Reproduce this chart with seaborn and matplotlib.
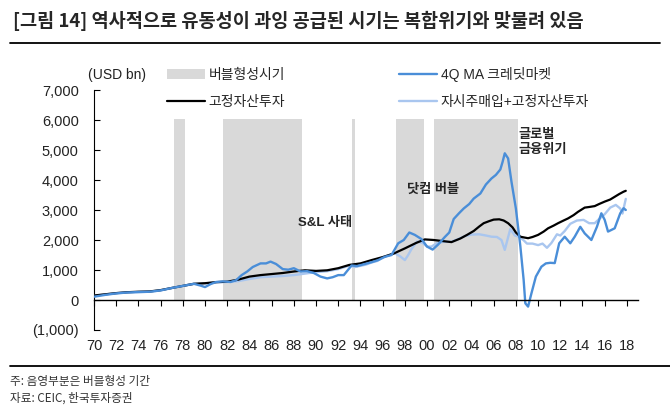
import matplotlib
matplotlib.use('Agg')
import matplotlib.pyplot as plt
import seaborn as sns
from matplotlib.lines import Line2D
from matplotlib.ticker import FuncFormatter

# ---------------- data ----------------
band_start = [1977.2, 1981.6, 1993.2, 1997.2, 2000.6]
band_end = [1978.2, 1988.7, 1993.5, 1999.7, 2008.2]
BAND_TOP = 6050

blue_years = [1970, 1971, 1972, 1973, 1974, 1975, 1976, 1977, 1978, 1979,
              1979.6, 1980.0, 1980.5, 1981.0, 1981.6, 1982.3, 1982.8, 1983.3, 1983.8, 1984.3,
              1985.0, 1985.5, 1985.9, 1986.4, 1987.0, 1987.5, 1988.0, 1988.6, 1989.2, 1989.8,
              1990.4, 1991.0, 1991.5, 1992.0, 1992.5, 1993.2, 1993.7, 1994.3, 1995.0, 1995.6,
              1996.2, 1996.8, 1997.4, 1997.9, 1998.4, 1998.9, 1999.5, 2000.0, 2000.5, 2001.0,
              2001.6, 2002.0, 2002.4, 2002.9, 2003.3, 2003.8, 2004.2, 2004.8, 2005.3, 2005.8,
              2006.2, 2006.6, 2006.8, 2007.0, 2007.3, 2007.6, 2008.0, 2008.4, 2008.7, 2008.85,
              2009.1, 2009.4, 2009.8, 2010.3, 2010.7, 2011.1, 2011.5, 2011.9, 2012.4, 2012.9,
              2013.3, 2013.8, 2014.2, 2014.8, 2015.3, 2015.7, 2016.0, 2016.3, 2016.9, 2017.4,
              2017.7, 2017.9]
blue_vals = [110, 170, 220, 250, 265, 275, 320, 400, 470, 540,
             480, 430, 530, 600, 620, 600, 660, 830, 950, 1100,
             1220, 1220, 1280, 1200, 1030, 1010, 1060, 950, 960, 900,
             780, 720, 760, 830, 830, 1150, 1130, 1190, 1260, 1330,
             1440, 1500, 1890, 2000, 2250, 2170, 2030, 1780, 1680, 1850,
             2100, 2250, 2700, 2900, 3050, 3200, 3380, 3550, 3850, 4050,
             4170, 4350, 4600, 4890, 4720, 3950, 3050, 1800, 670, -110,
             -220, 220, 780, 1110, 1220, 1240, 1230, 1890, 2110, 1890,
             2110, 2440, 2220, 2000, 2440, 2890, 2670, 2280, 2390, 2890,
             3060, 3000]

black_years = [1970, 1971, 1972, 1973, 1974, 1975, 1976, 1977, 1978, 1979,
               1980, 1981, 1982, 1983, 1984, 1985, 1986, 1987, 1988, 1989,
               1990, 1991, 1992, 1993, 1994, 1995, 1996, 1997, 1998, 1999,
               1999.8, 2000.6, 2001.5, 2002.2, 2003.0, 2003.6, 2004.2, 2004.7, 2005.1, 2005.6,
               2006.0, 2006.5, 2006.9, 2007.3, 2007.7, 2008.0, 2008.4, 2008.8, 2009.1, 2009.5,
               2010.0, 2010.5, 2010.9, 2011.4, 2011.8, 2012.3, 2012.7, 2013.2, 2013.6, 2014.2,
               2014.6, 2015.1, 2015.5, 2016.0, 2016.5, 2016.9, 2017.3, 2017.7, 2017.9]
black_vals = [150, 190, 230, 260, 275, 285, 330, 400, 470, 540,
              560, 595, 610, 680, 780, 830, 865, 900, 950, 990,
              970, 990, 1060, 1170, 1220, 1330, 1430, 1550, 1720, 1900,
              2020, 2000, 1960, 1930, 2050, 2170, 2300, 2450, 2560, 2630,
              2680, 2690, 2650, 2560, 2420, 2250, 2110, 2080, 2060, 2100,
              2170, 2280, 2390, 2480, 2560, 2650, 2720, 2830, 2940, 3080,
              3100, 3130, 3200, 3280, 3350, 3440, 3530, 3610, 3640]

lb_years = [1970, 1971, 1972, 1973, 1974, 1975, 1976, 1977, 1978, 1979,
            1980, 1981, 1982, 1983, 1984, 1985, 1986, 1987, 1988, 1989,
            1990, 1991, 1992, 1993, 1993.5, 1994, 1994.5, 1995, 1995.5, 1996,
            1996.5, 1997.1, 1997.6, 1998.0, 1998.3, 1998.6, 1999.1, 1999.6, 2000.0, 2000.4,
            2000.9, 2001.5, 2002.2, 2002.8, 2003.4, 2004.0, 2004.7, 2005.3, 2005.8, 2006.3,
            2006.7, 2007.0, 2007.5, 2007.9, 2008.3, 2008.7, 2009.0, 2009.5, 2010.0, 2010.4,
            2010.8, 2011.2, 2011.7, 2012.0, 2012.4, 2012.9, 2013.5, 2014.1, 2014.6, 2015.1,
            2015.5, 2016.0, 2016.5, 2017.0, 2017.4, 2017.6, 2017.9]
lb_vals = [140, 185, 225, 255, 265, 275, 320, 400, 470, 540,
           550, 590, 600, 630, 700, 760, 780, 800, 830, 880,
           930, 960, 1030, 1150, 1100, 1140, 1180, 1250, 1300, 1420,
           1480, 1560, 1450, 1330, 1500, 1700, 1950, 1900, 1780, 1780,
           1900, 1940, 1940, 2030, 2130, 2180, 2190, 2150, 2110, 2100,
           2000, 1670, 2370, 2150, 2110, 1990, 1880, 1880, 1830, 1880,
           1740, 1900, 2190, 2150, 2300, 2540, 2650, 2670, 2560, 2560,
           2700, 2860, 3080, 3170, 3050, 2880, 3370]

x_ticks = list(range(1970, 2019, 2))
y_ticks = list(range(-1000, 7001, 1000))

title = "[그림 14] 역사적으로 유동성이 과잉 공급된 시기는 복합위기와 맞물려 있음"
lbl_band = "버블형성시기"
lbl_black = "고정자산투자"
lbl_blue = "4Q MA 크레딧마켓"
lbl_lb = "자시주매입+고정자산투자"
annotations = [("S&L 사태", 1990.8, 2570, 'center'),
               ("닷컴 버블", 2000.5, 3670, 'center'),
               ("글로벌\n금융위기", 2008.2, 5250, 'left')]
note1 = "주: 음영부분은 버블형성 기간"
note2 = "자료: CEIC, 한국투자증권"

# ---------------- styling ----------------
sns.set_theme(style='white')
plt.rcParams['font.family'] = ['Liberation Sans', 'Noto Sans CJK KR']
plt.rcParams['axes.unicode_minus'] = False

C_BLUE = '#4A8ED8'
C_LB = '#A9C6EF'
C_BAND = '#D9D9D9'

W, H = 670, 407
fig = plt.figure(figsize=(W / 100, H / 100), dpi=100)
ax = fig.add_axes([94 / W, 1 - 330 / H, (638 - 94) / W, (330 - 90) / H])

for i, (s, e) in enumerate(zip(band_start, band_end)):
    ax.fill_between([s, e], 0, BAND_TOP, color=C_BAND, lw=0, zorder=1,
                    label=lbl_band if i == 0 else None)

sns.lineplot(x=lb_years, y=lb_vals, color=C_LB, lw=1.7, ax=ax, label=lbl_lb, zorder=3)
sns.lineplot(x=black_years, y=black_vals, color='black', lw=1.6, ax=ax, label=lbl_black, zorder=4)
sns.lineplot(x=blue_years, y=blue_vals, color=C_BLUE, lw=1.7, ax=ax, label=lbl_blue, zorder=5)

ax.set_xlim(1970, 2019)
ax.set_ylim(-1000, 7000)
ax.set_xticks(x_ticks)
ax.set_xticklabels([f"{y % 100:02d}" for y in x_ticks])
ax.set_yticks(y_ticks)
ax.yaxis.set_major_formatter(FuncFormatter(
    lambda v, p: f"({abs(int(v)):,})" if v < 0 else f"{int(v):,}"))
ax.set_xlabel('')
ax.set_ylabel('')
ax.grid(False)

for sp in ['top', 'right']:
    ax.spines[sp].set_visible(False)
ax.spines['left'].set_color('black')
ax.spines['left'].set_linewidth(0.8)
ax.spines['bottom'].set_position(('data', 0))
ax.spines['bottom'].set_color('black')
ax.spines['bottom'].set_linewidth(1.0)
ax.spines['bottom'].set_zorder(6)

ax.tick_params(axis='y', direction='in', length=4, width=0.8, color='black',
               pad=11, labelsize=10.5, labelcolor='#222222', left=True)
ax.tick_params(axis='x', direction='out', length=4, width=0.8, color='black',
               pad=24, labelsize=10.5, labelcolor='#222222', bottom=True)

for txt, x, y, ha in annotations:
    ax.text(x, y, txt, ha=ha, va='center', fontsize=9.5, fontweight='bold',
            linespacing=1.35, zorder=7)

handles, labels = ax.get_legend_handles_labels()
hmap = dict(zip(labels, handles))
order = [lbl_band, lbl_black, lbl_blue, lbl_lb]
ax.legend([hmap[k] for k in order], order, ncol=2, loc='upper left',
          bbox_to_anchor=(167 / W, 1 - 67 / H), bbox_transform=fig.transFigure,
          frameon=False, fontsize=10, handlelength=2.75, handletextpad=0.25,
          columnspacing=8.2, labelspacing=0.95, borderpad=0, borderaxespad=0)

fig.text(88 / W, 1 - 75 / H, "(USD bn)", va='center', ha='left', fontsize=10, color='#222222')

fig.text(13 / W, 1 - 21 / H, title, va='center', ha='left', fontsize=13.4,
         fontweight='bold', family=['Noto Sans CJK KR', 'DejaVu Sans'])
fig.add_artist(Line2D([10 / W, 660 / W], [1 - 43 / H] * 2, transform=fig.transFigure,
                      color='black', lw=1.3))
fig.add_artist(Line2D([10 / W, 670 / W], [1 - 366 / H] * 2, transform=fig.transFigure,
                      color='black', lw=1.3))
fig.text(10 / W, 1 - 382 / H, note1, va='center', ha='left', fontsize=8.4, color='#333333',
         family=['Noto Sans CJK KR', 'DejaVu Sans'])
fig.text(10 / W, 1 - 398 / H, note2, va='center', ha='left', fontsize=8.4, color='#333333',
         family=['Noto Sans CJK KR', 'DejaVu Sans'])

fig.savefig('out.png', dpi=100)
